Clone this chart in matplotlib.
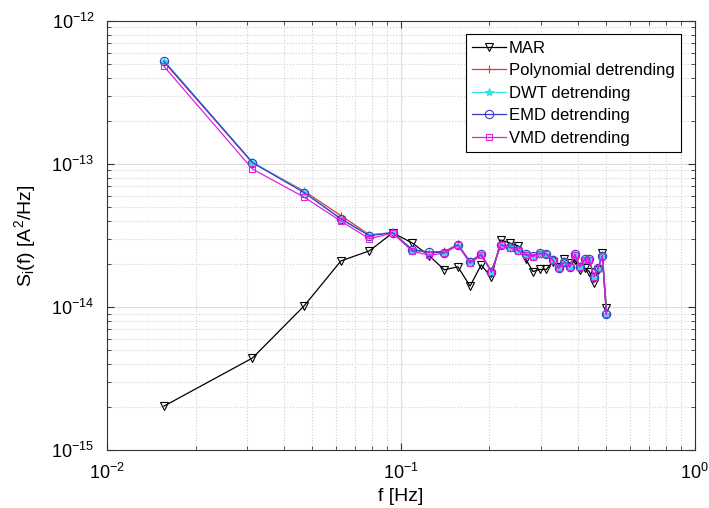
import numpy as np
import matplotlib
matplotlib.use('Agg')
import matplotlib.pyplot as plt
from matplotlib.ticker import NullFormatter

plt.rcParams['font.family'] = ['Liberation Sans', 'DejaVu Sans']
plt.rcParams['mathtext.fontset'] = 'custom'
plt.rcParams['mathtext.rm'] = 'Liberation Sans'
plt.rcParams['mathtext.it'] = 'Liberation Sans:italic'
plt.rcParams['mathtext.default'] = 'regular'

# frequency bins k/64 Hz, k = 1..32
f = np.arange(1, 33) / 64

mar = [2.03e-15, 4.4e-15, 1.02e-14, 2.1e-14, 2.47e-14, 3.3e-14, 2.8e-14, 2.27e-14,
       1.82e-14, 1.91e-14, 1.40e-14, 1.97e-14, 1.61e-14, 2.94e-14, 2.8e-14, 2.68e-14,
       2.17e-14, 1.77e-14, 1.83e-14, 1.83e-14, 2.07e-14, 1.9e-14, 2.16e-14, 2.03e-14,
       2.14e-14, 1.82e-14, 1.87e-14, 1.77e-14, 1.48e-14, 1.82e-14, 2.40e-14, 9.8e-15]

poly = [5.15e-13, 1.02e-13, 6.45e-14, 4.35e-14, 3.2e-14, 3.3e-14, 2.52e-14, 2.42e-14,
        2.45e-14, 2.74e-14, 2.08e-14, 2.35e-14, 1.78e-14, 2.74e-14, 2.64e-14, 2.5e-14,
        2.34e-14, 2.28e-14, 2.38e-14, 2.36e-14, 2.15e-14, 1.88e-14, 2.08e-14, 1.92e-14,
        2.34e-14, 1.92e-14, 2.17e-14, 2.17e-14, 1.64e-14, 1.88e-14, 2.3e-14, 9.1e-15]

dwt = [5.25e-13, 1.03e-13, 6.35e-14, 4.15e-14, 3.18e-14, 3.32e-14, 2.5e-14, 2.4e-14,
       2.4e-14, 2.72e-14, 2.07e-14, 2.33e-14, 1.77e-14, 2.72e-14, 2.63e-14, 2.5e-14,
       2.33e-14, 2.27e-14, 2.37e-14, 2.35e-14, 2.14e-14, 1.87e-14, 2.07e-14, 1.91e-14,
       2.33e-14, 1.91e-14, 2.16e-14, 2.16e-14, 1.63e-14, 1.87e-14, 2.28e-14, 9.0e-15]

emd = [5.22e-13, 1.02e-13, 6.3e-14, 4.12e-14, 3.15e-14, 3.31e-14, 2.5e-14, 2.42e-14,
       2.4e-14, 2.72e-14, 2.07e-14, 2.33e-14, 1.77e-14, 2.72e-14, 2.63e-14, 2.5e-14,
       2.33e-14, 2.27e-14, 2.37e-14, 2.35e-14, 2.14e-14, 1.87e-14, 2.07e-14, 1.91e-14,
       2.33e-14, 1.91e-14, 2.16e-14, 2.16e-14, 1.63e-14, 1.87e-14, 2.28e-14, 9.0e-15]

vmd = [4.8e-13, 9.2e-14, 5.85e-14, 3.98e-14, 3.0e-14, 3.28e-14, 2.45e-14, 2.3e-14,
       2.38e-14, 2.7e-14, 2.02e-14, 2.3e-14, 1.75e-14, 2.7e-14, 2.6e-14, 2.48e-14,
       2.3e-14, 2.25e-14, 2.35e-14, 2.33e-14, 2.12e-14, 1.86e-14, 2.05e-14, 1.9e-14,
       2.3e-14, 1.9e-14, 2.14e-14, 2.14e-14, 1.62e-14, 1.86e-14, 2.26e-14, 8.9e-15]

xticks = [1e-2, 1e-1, 1e0]
yticks = [1e-15, 1e-14, 1e-13, 1e-12]

fig = plt.figure(figsize=(7.09, 5.08), dpi=100)
ax = fig.add_axes([0.151, 0.114, 0.829, 0.845])

ax.loglog(f, mar, color='black', lw=0.9, marker='v', ms=6, mfc='none', mew=0.8, label='MAR')
ax.loglog(f, poly, color='#e8332e', lw=0.9, marker='+', ms=6, mew=0.8, label='Polynomial detrending')
ax.loglog(f, dwt, color='#35e0e8', lw=0.9, marker='*', ms=6, mew=0.8, label='DWT detrending')
ax.loglog(f, emd, color='#3a3ac8', lw=0.9, marker='o', ms=6, mfc='none', mew=0.8, label='EMD detrending')
ax.loglog(f, vmd, color='#e020e0', lw=0.9, marker='s', ms=5, mfc='none', mew=0.8, label='VMD detrending')

ax.set_xticks(xticks)
ax.set_yticks(yticks)
ax.set_xlim(1e-2, 1e0)
ax.set_ylim(1e-15, 1e-12)
ax.xaxis.set_minor_formatter(NullFormatter())
ax.yaxis.set_minor_formatter(NullFormatter())
ax.grid(True, which='major', color='#dddddd', linestyle='-', lw=0.8)
ax.grid(True, which='minor', color='#d0d0d0', linestyle=':', lw=0.8)
ax.tick_params(which='both', direction='in', top=True, right=True, labelsize=13, color='#333333')
ax.tick_params(which='major', length=5, pad=9)
ax.tick_params(which='minor', length=3)
for s in ax.spines.values():
    s.set_color('#333333')
    s.set_linewidth(0.8)

ax.set_xlabel('f [Hz]', fontsize=14, labelpad=4)
ax.set_ylabel(r'S$_i$(f) [A$^2$/Hz]', fontsize=14, labelpad=10)

leg = ax.legend(loc='upper right', fontsize=12, fancybox=False, framealpha=1,
                edgecolor='black', borderpad=0.4, labelspacing=0.45, handlelength=2.0,
                handletextpad=0.2, borderaxespad=0.8)
leg.get_frame().set_linewidth(0.8)

fig.savefig('out.png', dpi=100)
